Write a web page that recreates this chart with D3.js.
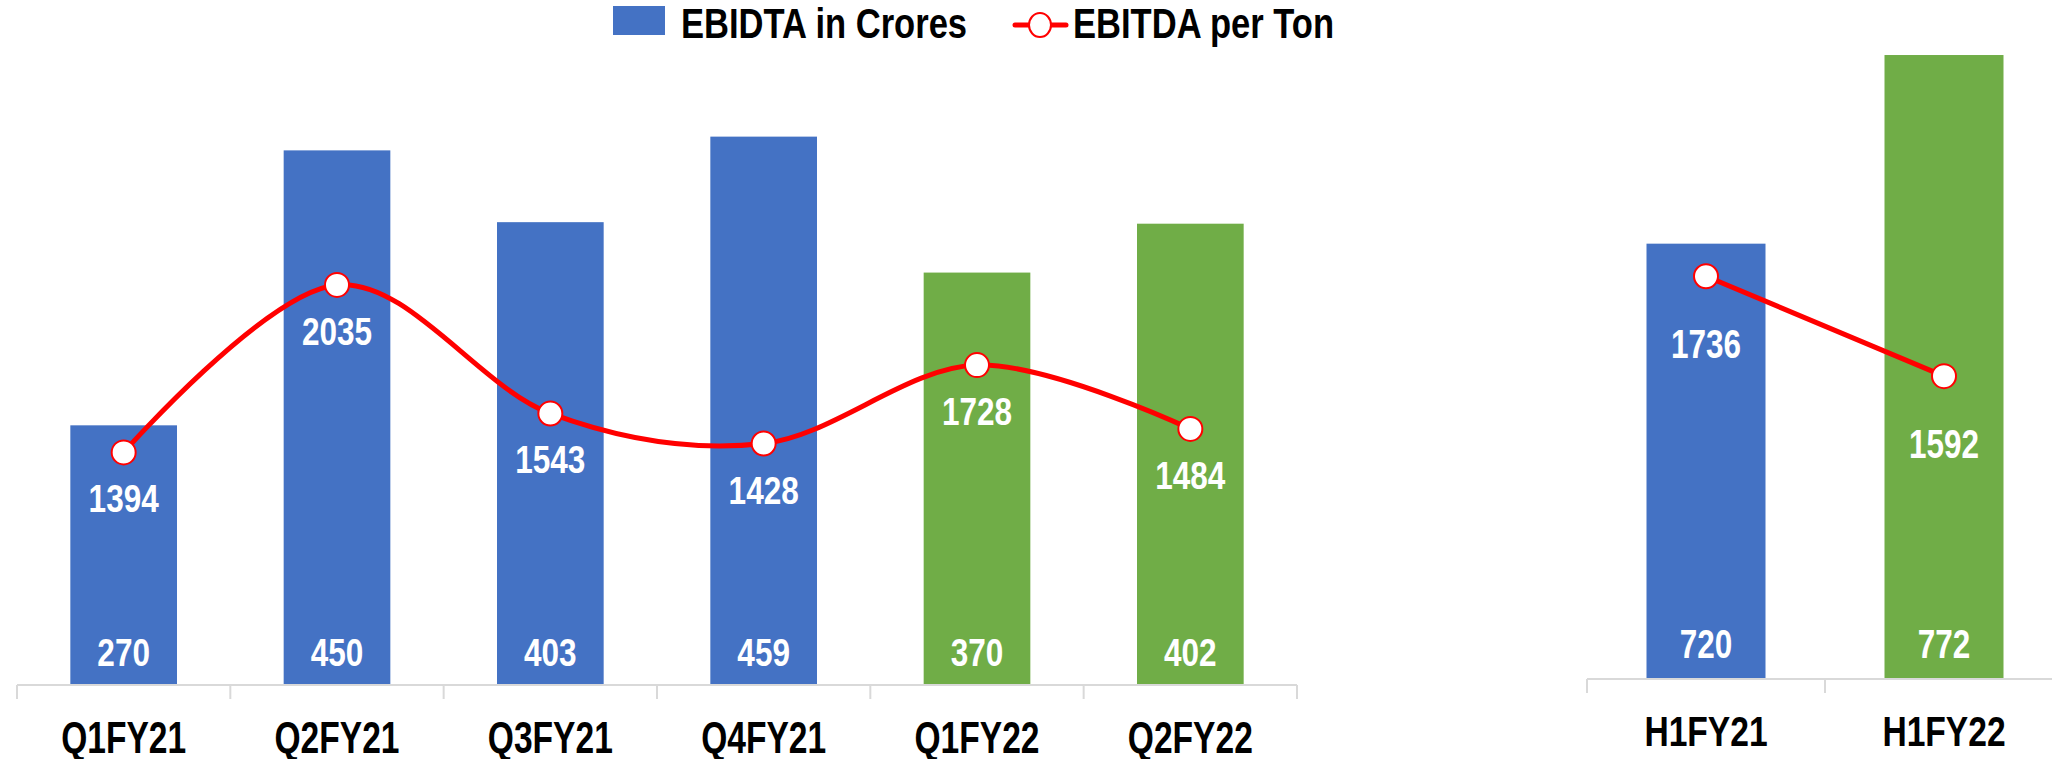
<!DOCTYPE html>
<html>
<head>
<meta charset="utf-8">
<script src="https://cdn.jsdelivr.net/npm/d3@7/dist/d3.min.js"></script>
<style>
  html, body { margin: 0; padding: 0; background: #fff; }
  svg { display: block; }
  text { font-family: "Liberation Sans", Arial, sans-serif; font-weight: bold; }
</style>
</head>
<body>
<svg id="chart" width="2052" height="759"></svg>
<script>
// ---------- DATA ----------
const quarterCategories = ["Q1FY21", "Q2FY21", "Q3FY21", "Q4FY21", "Q1FY22", "Q2FY22"];
const quarterEbitdaCrores = [270, 450, 403, 459, 370, 402];
const quarterEbitdaPerTon = [1394, 2035, 1543, 1428, 1728, 1484];

const halfCategories = ["H1FY21", "H1FY22"];
const halfEbitdaCrores = [720, 772];
const halfEbitdaPerTon = [1736, 1592];

const legendLabels = ["EBIDTA in Crores", "EBITDA per Ton"];

// ---------- STYLE ----------
const BLUE = "#4472C4", GREEN = "#70AD47", RED = "#FF0000", AXIS = "#D9D9D9";
const barColor = c => c.endsWith("22") ? GREEN : BLUE;

const svg = d3.select("#chart");
svg.append("rect").attr("width", 2052).attr("height", 759).attr("fill", "#fff");

// condensed text helper (emulates a narrow bold face)
function ctext(parent, x, y, str, size, sx, fill, anchor) {
  const g = parent.append("g").attr("transform", `translate(${x},${y})`);
  g.append("text")
    .attr("transform", `scale(${sx},1)`)
    .attr("text-anchor", anchor || "middle")
    .attr("font-size", size)
    .attr("fill", fill)
    .text(str);
  return g;
}

function panel(cfg) {
  const { cats, bars, line, xRange, baseY, barDomain, barRange, lineDomain, lineRange,
          curve, axisEnd } = cfg;
  const g = svg.append("g");
  const x = d3.scaleBand().domain(cats).range(xRange).paddingInner(0.5).paddingOuter(0.25);
  const yBar = d3.scaleLinear().domain(barDomain).range(barRange);
  const yLine = d3.scaleLinear().domain(lineDomain).range(lineRange);
  const step = x.step();
  const cx = d => x(d) + x.bandwidth() / 2;

  // bars
  g.selectAll("rect.bar").data(cats).join("rect")
    .attr("class", "bar")
    .attr("x", d => x(d))
    .attr("width", x.bandwidth())
    .attr("y", (d, i) => yBar(bars[i]))
    .attr("height", (d, i) => baseY - yBar(bars[i]))
    .attr("fill", d => barColor(d));

  // axis
  const axisG = g.append("g").attr("transform", `translate(0,${baseY})`);
  axisG.call(d3.axisBottom(x).tickSize(0).tickFormat(""));
  axisG.select(".domain").remove();
  axisG.append("line").attr("x1", xRange[0]).attr("x2", axisEnd)
    .attr("stroke", AXIS).attr("stroke-width", 2);
  const tickPos = d3.range(cats.length + 1).map(i => xRange[0] + i * step);
  axisG.selectAll("line.tk").data(tickPos).join("line").attr("class", "tk")
    .attr("x1", d => d).attr("x2", d => d).attr("y1", 0).attr("y2", 14)
    .attr("stroke", AXIS).attr("stroke-width", 2);

  // category labels
  cats.forEach(c => ctext(g, cx(c), baseY + cfg.catDy, c, cfg.catSize, cfg.catSx, "#000"));

  // bar value labels
  cats.forEach((c, i) => ctext(g, cx(c), baseY - cfg.valDy, bars[i], cfg.valSize, cfg.valSx, "#fff"));

  // line
  const pts = cats.map((c, i) => [cx(c), yLine(line[i])]);
  g.append("path")
    .attr("d", d3.line().curve(curve)(pts))
    .attr("fill", "none").attr("stroke", RED).attr("stroke-width", 5)
    .attr("stroke-linejoin", "round").attr("stroke-linecap", "round");
  g.selectAll("circle.mk").data(pts).join("circle")
    .attr("class", "mk")
    .attr("cx", d => d[0]).attr("cy", d => d[1]).attr("r", 12)
    .attr("fill", "#fff").attr("stroke", RED).attr("stroke-width", 2);

  // line value labels
  pts.forEach((p, i) => ctext(g, p[0], p[1] + cfg.lineLabelDy, line[i], cfg.valSize, cfg.valSx, "#fff"));
}

panel({
  cats: quarterCategories, bars: quarterEbitdaCrores, line: quarterEbitdaPerTon,
  xRange: [17, 1297], baseY: 685, axisEnd: 1297,
  barDomain: [100, 500], barRange: [685, 74],
  lineDomain: [500, 2800], lineRange: [686, 85],
  curve: d3.curveCardinal.tension(0),
  valSize: 38, valSx: 0.83, lineLabelDy: 60, valDy: 19,
  catSize: 44, catSx: 0.763, catDy: 68
});

panel({
  cats: halfCategories, bars: halfEbitdaCrores, line: halfEbitdaPerTon,
  xRange: [1587, 2063], baseY: 679, axisEnd: 2052,
  barDomain: [600, 780], barRange: [679, 26],
  lineDomain: [1000, 2000], lineRange: [787, 93],
  curve: d3.curveLinear,
  valSize: 40, valSx: 0.787, lineLabelDy: 82, valDy: 21,
  catSize: 42, catSx: 0.80, catDy: 67
});

// ---------- LEGEND ----------
const leg = svg.append("g");
leg.append("rect").attr("x", 613).attr("y", 6).attr("width", 52).attr("height", 29).attr("fill", BLUE);
ctext(leg, 681, 38, legendLabels[0], 42, 0.823, "#000", "start");
leg.append("line").attr("x1", 1015).attr("x2", 1066).attr("y1", 25).attr("y2", 25)
  .attr("stroke", RED).attr("stroke-width", 5).attr("stroke-linecap", "round");
leg.append("ellipse").attr("cx", 1040).attr("cy", 25).attr("rx", 11).attr("ry", 12)
  .attr("fill", "#fff").attr("stroke", RED).attr("stroke-width", 2);
ctext(leg, 1073, 38, legendLabels[1], 42, 0.823, "#000", "start");
</script>
</body>
</html>
